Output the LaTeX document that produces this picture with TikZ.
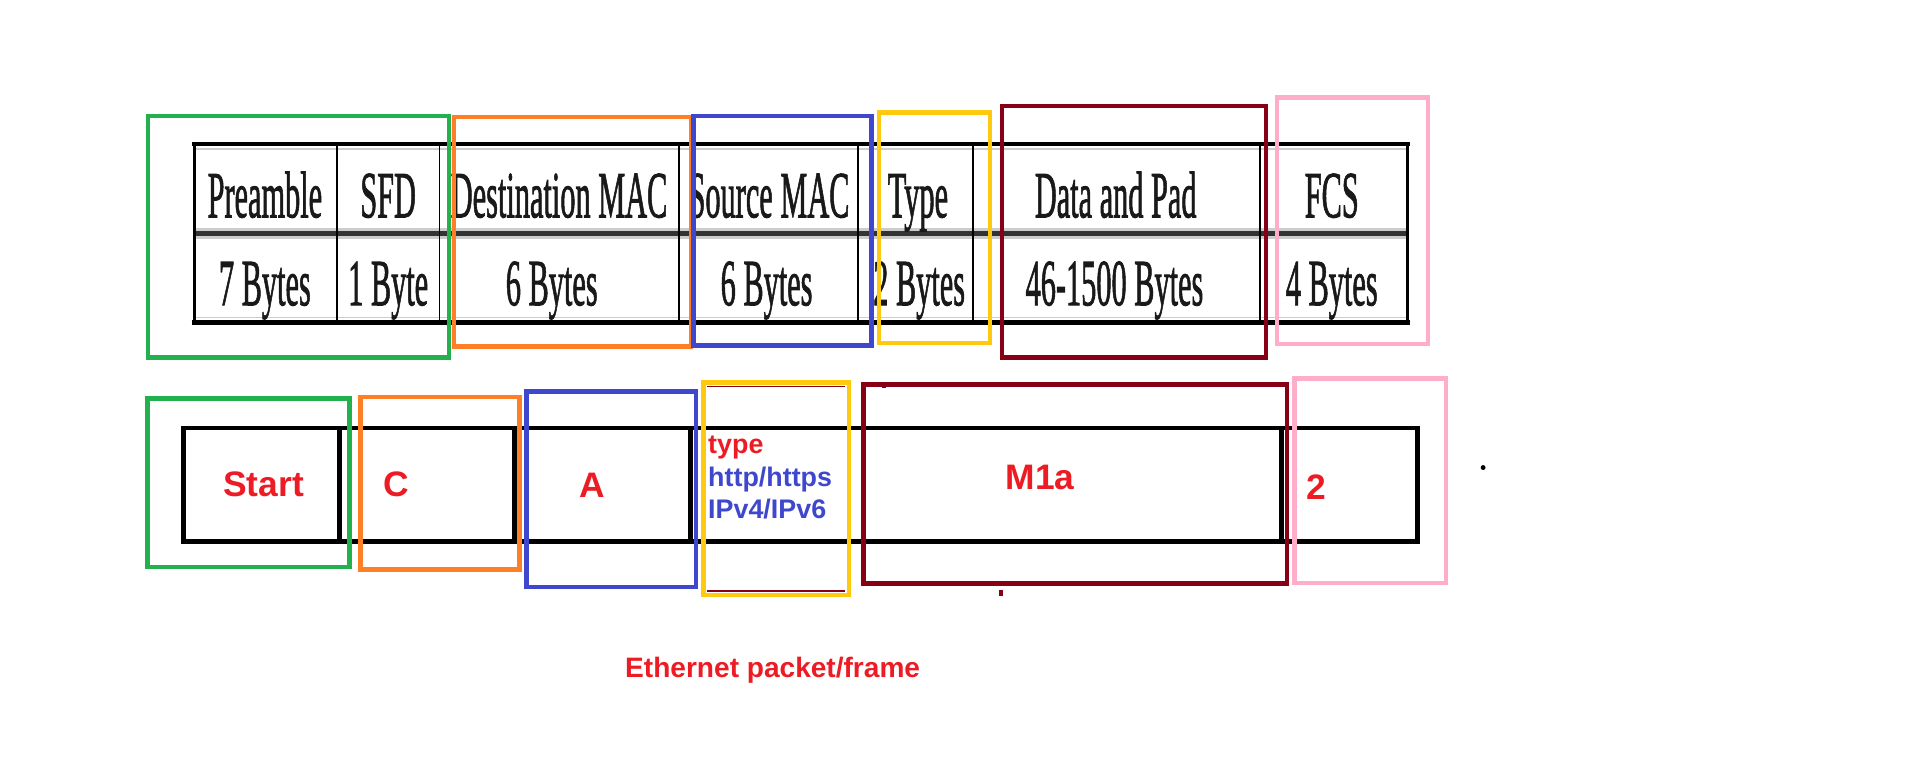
\documentclass[tikz,border=0pt]{standalone}
\usepackage{fontspec}
\setmainfont{Liberation Sans}
\newfontfamily\tabfont[FakeBold=1.6]{Liberation Serif}
\definecolor{pgreen}{HTML}{22B14C}
\definecolor{porange}{HTML}{FF7F27}
\definecolor{pblue}{HTML}{3F48CC}
\definecolor{pyellow}{HTML}{FFC90E}
\definecolor{pdred}{HTML}{880015}
\definecolor{ppink}{HTML}{FFAEC9}
\definecolor{pred}{HTML}{ED1C24}
\newcommand{\cond}[1]{\scalebox{0.46}[1]{#1}}
\begin{document}
\begin{tikzpicture}[x=1pt,y=-1pt,
  hl/.style={line width=3.6pt},
  tabtext/.style={font=\tabfont\fontsize{54}{54}\selectfont, text=black!90, inner sep=0, anchor=base},
  lbl/.style={font=\fontsize{29}{30}\selectfont\bfseries, text=pred, inner sep=0, anchor=base},
  small/.style={font=\fontsize{22}{24}\selectfont\bfseries, inner sep=0, anchor=base west},
  tline/.style={line width=1.5pt},
  fline/.style={line width=4pt}]
\useasboundingbox (0,0) rectangle (1568,633);
\fill[white] (0,0) rectangle (1568,633);

% ---------- table ----------
\draw[line width=9pt, black!20] (159,191) -- (1153,191);
\draw[line width=4pt, black!80] (159,191) -- (1153,191);
\draw[line width=1pt, black!20] (159,122) -- (1153,122);
\draw[line width=1pt, black!20] (159,260) -- (1153,260);
\foreach \cx in {276,360,556,703,797,1032}
  \draw[tline] (\cx,118) -- (\cx,264);
\draw[line width=1pt, black!25] (367,118) -- (367,264);
\draw[line width=1pt, black!25] (1037,118) -- (1037,264);
\draw[line width=2.5pt] (159,118) -- (159,264);
\draw[line width=3pt] (1153,118) -- (1153,264);
\draw[fline] (157,118) -- (1155,118);
\draw[fline] (157,264) -- (1155,264);

\node[tabtext] (h1) at (217,178) {\cond{Preamble}};
\node[tabtext] (h2) at (318,178) {\cond{SFD}};
\node[tabtext] (h3) at (458,178) {\cond{Destination MAC}};
\node[tabtext] (h4) at (630,178) {\cond{Source MAC}};
\node[tabtext] (h5) at (752,178) {\cond{Type}};
\node[tabtext] (h6) at (914,178) {\cond{Data and Pad}};
\node[tabtext] (h7) at (1091,178) {\cond{FCS}};
\node[tabtext] (b1) at (217,250) {\cond{7 Bytes}};
\node[tabtext] (b2) at (318,250) {\cond{1 Byte}};
\node[tabtext] (b3) at (452,250) {\cond{6 Bytes}};
\node[tabtext] (b4) at (628,250) {\cond{6 Bytes}};
\node[tabtext] (b5) at (753,250) {\cond{2 Bytes}};
\node[tabtext] (b6) at (913,250) {\cond{46-1500 Bytes}};
\node[tabtext] (b7) at (1091,250) {\cond{4 Bytes}};

% ---------- top highlight boxes ----------
\draw[hl, pgreen]  (121,95) rectangle (368,293);
\draw[hl, porange] (372,96) rectangle (566,284);
\draw[hl, pblue]   (568,95) rectangle (714,283);
\draw[hl, pyellow] (720,92) rectangle (811,281);
\draw[hl, pdred]   (821,87) rectangle (1037,293);
\draw[hl, ppink]   (1046,80) rectangle (1170,282);

% ---------- bottom frame ----------
\draw[fline] (150,350.6) rectangle (1161,443.7);
\foreach \cx in {278.3,421.6,566,1050}
  \draw[fline] (\cx,350.6) -- (\cx,443.7);

\draw[hl, pgreen]  (120.7,326.3) rectangle (286.2,464.7);
\draw[hl, porange] (295.3,325) rectangle (425.6,466.4);
\draw[hl, pblue]   (431.2,320.8) rectangle (570.2,481.1);
\draw[hl, pyellow] (576.2,313.2) rectangle (695.3,487.4);
\draw[line width=1.2pt, pdred] (579.2,316.8) -- (692.5,316.8);
\draw[line width=1.2pt, pdred] (579.2,484.2) -- (692.5,484.2);
\draw[hl, pdred]   (707.5,315) rectangle (1054.4,478);
\draw[hl, ppink]   (1060.5,310) rectangle (1184.6,477.7);

\fill[pdred] (722.5,313) rectangle (726,318);
\fill[pdred] (818,483) rectangle (822,488);
\fill[black] (1215,383) circle (2pt);

\node[lbl] (start) at (216,406.5) {Start};
\node[lbl] (c) at (325,406.5) {C};
\node[lbl] (a) at (485,407.5) {A};
\node[small, text=pred]  (t1) at (580,371.4) {type};
\node[small, text=pblue] (t2) at (580,398.7) {http/https};
\node[small, text=pblue] (t3) at (580,425) {IPv4/IPv6};
\node[lbl] (m) at (852,401.4) {M1a};
\node[lbl] (two) at (1078,409.6) {2};
\node[font=\fontsize{23}{24}\selectfont\bfseries, text=pred, inner sep=0, anchor=base] (cap) at (633,555.2) {Ethernet packet/frame};
\end{tikzpicture}
\end{document}
